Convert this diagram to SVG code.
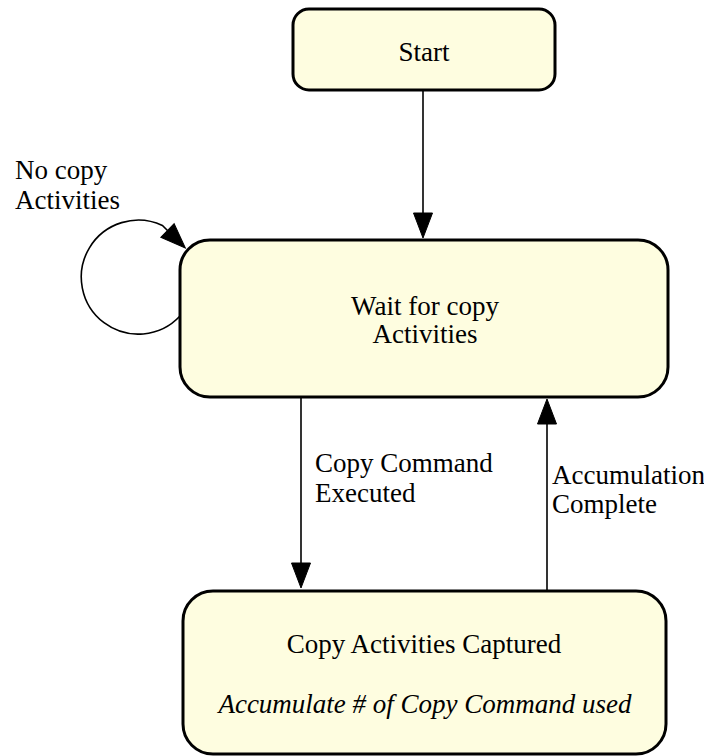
<svg xmlns="http://www.w3.org/2000/svg" width="704" height="756" viewBox="0 0 704 756">
  <style>
    .state { fill: #FEFDE0; stroke: #000; stroke-width: 3; }
    .edge { fill: none; stroke: #000; stroke-width: 1.6; }
    .lbl { font-family: "Liberation Serif", "Times New Roman", Times, Tinos, "Noto Serif", "DejaVu Serif", FreeSerif, serif; font-size: 27px; fill: #000; }
    .mid { text-anchor: middle; }
    .note { font-style: italic; }
  </style>
  <defs>
    <marker id="arrow" markerUnits="userSpaceOnUse" markerWidth="30" markerHeight="24"
            viewBox="0 -12 30 24" refX="0" refY="0" orient="auto" overflow="visible">
      <path d="M0,-9.5 L25,0 L0,9.5 Z" fill="#000" stroke="#000" stroke-width="1"/>
    </marker>
  </defs>

  <rect width="704" height="756" fill="#fff"/>

  <!-- states -->
  <g id="start">
    <rect class="state" x="293" y="9" width="262" height="81" rx="16" ry="16"/>
    <text class="lbl mid" x="424" y="61">Start</text>
  </g>

  <g id="wait">
    <rect class="state" x="180" y="240" width="488" height="157" rx="30" ry="30"/>
    <text class="lbl mid" x="425" y="315">Wait for copy</text>
    <text class="lbl mid" x="425" y="343">Activities</text>
  </g>

  <g id="captured">
    <rect class="state" x="183" y="591" width="483" height="163" rx="30" ry="30"/>
    <text class="lbl mid" x="424" y="653">Copy Activities Captured</text>
    <text class="lbl mid note" x="425" y="713">Accumulate # of Copy Command used</text>
  </g>

  <!-- transitions -->
  <g id="edges">
    <path class="edge" d="M423,90 V213" marker-end="url(#arrow)"/>
    <path class="edge" d="M180,316 A57,57 0 1 1 162.4,225.5 L167.5,230.5" marker-end="url(#arrow)"/>
    <path class="edge" d="M301,397 V563" marker-end="url(#arrow)"/>
    <path class="edge" d="M547,591 V424" marker-end="url(#arrow)"/>

    <text class="lbl" x="15" y="179">No copy</text>
    <text class="lbl" x="15" y="209">Activities</text>
    <text class="lbl" x="315" y="472">Copy Command</text>
    <text class="lbl" x="315" y="502">Executed</text>
    <text class="lbl" x="552" y="484">Accumulation</text>
    <text class="lbl" x="552" y="513">Complete</text>
  </g>
</svg>
